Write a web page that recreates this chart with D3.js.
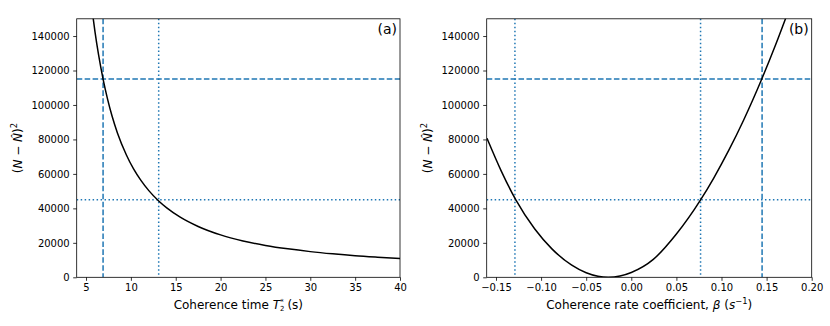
<!DOCTYPE html>
<html>
<head>
<meta charset="utf-8">
<script src="https://cdn.jsdelivr.net/npm/d3@7"></script>
<style>
  body { margin: 0; background: #fff; }
  svg { display: block; font-family: "DejaVu Sans", sans-serif; }
</style>
</head>
<body>
<div class="chart"></div>
<script>
// panel (a): squared error against coherence time T2*
const t2Values = [5.7, 6.0, 6.4, 6.9, 7.4, 7.9, 8.5, 9.5, 10.3, 11.1, 12, 13.1, 14, 15.5, 17.5, 20, 22.5, 25, 27.5, 30, 32.5, 35, 37.5, 40];
const t2Error  = [154100, 142400, 129000, 115000, 103400, 93600, 83800, 71000, 62900, 56400, 50300, 44300, 40300, 34900, 29500, 24600, 21100, 18500, 16500, 14900, 13600, 12500, 11650, 10900];

// panel (b): squared error against coherence rate coefficient beta
const betaValues = [-0.16, -0.144, -0.128, -0.107, -0.088, -0.066, -0.05, -0.037, -0.0255, -0.0125, 0, 0.0244, 0.05, 0.0768, 0.0914, 0.108, 0.1246, 0.145, 0.16, 0.172];
const betaError  = [80700, 61500, 44900, 28000, 16500, 7000, 2600, 570, 0, 730, 2800, 10400, 25100, 44900, 57600, 73600, 91300, 115500, 134900, 151500];

// threshold levels and where the curves cross them
const dashedLevel = [115000];
const dottedLevel = [45000];
const t2Dashed = [6.9];
const t2Dotted = [13.1];
const betaDashed = [0.145];
const betaDotted = [-0.129, 0.0768];

const yTicks = [0, 20000, 40000, 60000, 80000, 100000, 120000, 140000];
const t2Ticks = [5, 10, 15, 20, 25, 30, 35, 40];
const betaTicks = [-0.15, -0.10, -0.05, 0.00, 0.05, 0.10, 0.15, 0.20];

const W = 830, H = 326;
const plotTop = 18.8, plotBottom = 277.3;
const blue = "#1f77b4";

const svg = d3.select(".chart")
  .append("svg")
  .attr("width", W)
  .attr("height", H)
  .attr("viewBox", `0 0 ${W} ${H}`);

const panel = (opts) => {
  const x = d3.scaleLinear().domain(opts.xDomain).range([opts.left, opts.right]);
  const y = d3.scaleLinear().domain([0, 150000]).range([plotBottom, plotTop]);

  const g = svg.append("g");

  g.append("clipPath")
    .attr("id", opts.id)
    .append("rect")
      .attr("x", opts.left)
      .attr("y", plotTop)
      .attr("width", opts.right - opts.left)
      .attr("height", plotBottom - plotTop);

  const plot = g.append("g").attr("clip-path", `url(#${opts.id})`);

  // horizontal threshold lines
  plot.selectAll(".hdash")
    .data(dashedLevel)
    .join("line")
      .attr("x1", opts.left).attr("x2", opts.right)
      .attr("y1", d => y(d)).attr("y2", d => y(d))
      .attr("stroke", blue).attr("stroke-width", 1.5)
      .attr("stroke-dasharray", "5.55,2.4");

  plot.selectAll(".hdot")
    .data(dottedLevel)
    .join("line")
      .attr("x1", opts.left).attr("x2", opts.right)
      .attr("y1", d => y(d)).attr("y2", d => y(d))
      .attr("stroke", blue).attr("stroke-width", 1.5)
      .attr("stroke-dasharray", "1.5,2.475");

  // vertical crossing lines
  plot.selectAll(".vdash")
    .data(opts.dashed)
    .join("line")
      .attr("x1", d => x(d)).attr("x2", d => x(d))
      .attr("y1", plotTop).attr("y2", plotBottom)
      .attr("stroke", blue).attr("stroke-width", 1.5)
      .attr("stroke-dasharray", "5.55,2.4");

  plot.selectAll(".vdot")
    .data(opts.dotted)
    .join("line")
      .attr("x1", d => x(d)).attr("x2", d => x(d))
      .attr("y1", plotTop).attr("y2", plotBottom)
      .attr("stroke", blue).attr("stroke-width", 1.5)
      .attr("stroke-dasharray", "1.5,2.475");

  const pts = opts.xs.map((v, i) => [v, opts.ys[i]]);
  const line = d3.line()
    .x(d => x(d[0]))
    .y(d => y(d[1]))
    .curve(d3.curveMonotoneX);

  plot.append("path")
    .attr("d", line(pts))
    .attr("fill", "none")
    .attr("stroke", "black")
    .attr("stroke-width", 1.5);

  // axes
  const xAxis = g.append("g")
    .attr("transform", `translate(0, ${plotBottom})`)
    .call(d3.axisBottom(x).tickValues(opts.xTicks).tickFormat(opts.fmt).tickSizeOuter(0).tickSize(3.5).tickPadding(3.5));

  const yAxis = g.append("g")
    .attr("transform", `translate(${opts.left}, 0)`)
    .call(d3.axisLeft(y).tickValues(yTicks).tickFormat(d3.format("d")).tickSizeOuter(0).tickSize(3.5).tickPadding(3.5));

  [xAxis, yAxis].forEach(a => {
    a.select(".domain").remove();
    a.selectAll("line").attr("stroke", "black").attr("stroke-width", 0.8);
    a.selectAll("text")
      .attr("fill", "black")
      .attr("font-size", "10px")
      .attr("font-family", "DejaVu Sans");
  });

  g.append("rect")
    .attr("x", opts.left).attr("y", plotTop)
    .attr("width", opts.right - opts.left)
    .attr("height", plotBottom - plotTop)
    .attr("fill", "none")
    .attr("stroke", "black")
    .attr("stroke-width", 0.8);

  // y label (N - N^)^2
  const yl = g.append("text")
    .attr("transform", `translate(${opts.left - 54.7}, ${(plotTop + plotBottom) / 2}) rotate(-90)`)
    .attr("text-anchor", "middle")
    .attr("font-size", "12px")
    .attr("fill", "black");
  yl.append("tspan").text("(");
  yl.append("tspan").attr("font-style", "italic").text("N");
  yl.append("tspan").text(" \u2212 ");
  yl.append("tspan").attr("font-style", "italic").text("N\u0302");
  yl.append("tspan").text(")");
  yl.append("tspan").attr("font-size", "8.4px").attr("dy", -5.5).text("2");

  // x label
  const xl = g.append("text")
    .attr("x", (opts.left + opts.right) / 2)
    .attr("y", 308.5)
    .attr("text-anchor", "middle")
    .attr("font-size", "12px")
    .attr("fill", "black");
  opts.xLabel(xl);

  // panel tag
  g.append("text")
    .attr("x", opts.right - 3)
    .attr("y", 33.5)
    .attr("text-anchor", "end")
    .attr("font-size", "14px")
    .attr("fill", "black")
    .text(opts.tag);
};

panel({
  id: "clipA",
  left: 76.7, right: 400,
  xDomain: [3.96, 40],
  xs: t2Values, ys: t2Error,
  dashed: t2Dashed, dotted: t2Dotted,
  xTicks: t2Ticks,
  fmt: d3.format("d"),
  tag: "(a)",
  xLabel: t => {
    t.append("tspan").text("Coherence time ");
    t.append("tspan").attr("font-style", "italic").text("T");
    t.append("tspan").attr("font-size", "7px").attr("dy", 2.5).text("2");
    t.append("tspan").attr("font-size", "7px").attr("dx", -4.4).attr("dy", -7.5).text("*");
    t.append("tspan").attr("dy", 5).text(" (s)");
  }
});

panel({
  id: "clipB",
  left: 486.7, right: 811.7,
  xDomain: [-0.1603, 0.20],
  xs: betaValues, ys: betaError,
  dashed: betaDashed, dotted: betaDotted,
  xTicks: betaTicks,
  fmt: d3.format(".2f"),
  tag: "(b)",
  xLabel: t => {
    t.append("tspan").text("Coherence rate coefficient, ");
    t.append("tspan").attr("font-style", "italic").text("\u03b2");
    t.append("tspan").text(" (");
    t.append("tspan").attr("font-style", "italic").text("s");
    t.append("tspan").attr("font-size", "8.4px").attr("dy", -5).text("\u22121");
    t.append("tspan").attr("dy", 5).text(")");
  }
});
</script>
</body>
</html>
